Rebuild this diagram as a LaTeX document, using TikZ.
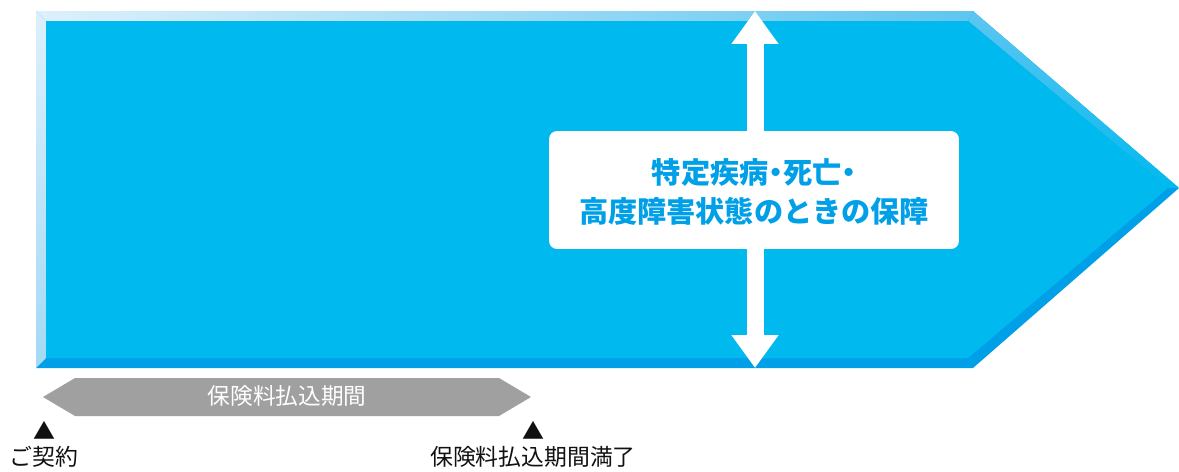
\documentclass[tikz,border=0pt]{standalone}
\usepackage{fontspec}
\setmainfont{Noto Sans CJK JP}
\newfontfamily\paltfont[RawFeature=+palt]{Noto Sans CJK JP}
\usepackage{xcolor}
\usepackage{tikz}
\usetikzlibrary{calc,arrows.meta}
\definecolor{main}{HTML}{00B9EF}
\definecolor{deep}{HTML}{00A0E9}
\definecolor{pale}{HTML}{DDF0FB}
\definecolor{light}{HTML}{A3D9F4}
\definecolor{sky}{HTML}{5FC6F0}
\definecolor{bar}{HTML}{A0A0A0}
\definecolor{ink}{HTML}{111111}
\newcommand{\dotp}{{\paltfont ・}}
\tikzset{
  box/.style={fill=white, rounded corners=0.16cm, minimum width=8.2cm, minimum height=2.36cm, inner sep=0pt},
  title/.style={text=deep, font=\bfseries\fontsize{16.6pt}{22pt}\selectfont, align=center},
  barlab/.style={text=white, font=\fontsize{12.9pt}{14pt}\selectfont},
  lab/.style={text=ink, font=\fontsize{13pt}{15pt}\selectfont},
  tri/.style={text=ink, font=\fontsize{12.5pt}{15pt}\selectfont, inner sep=0pt},
  updown/.style={draw=white, line width=0.34cm, {Triangle[width=0.9cm,length=0.66cm]}-{Triangle[width=0.9cm,length=0.66cm]}},
}

\begin{document}
\begin{tikzpicture}[x=0.02cm, y=-0.02cm]
\useasboundingbox (0,0) rectangle (1179,471);

% big arrow with bevel
\fill[deep] (36,11) -- (973,11) -- (1179,188) -- (973,368) -- (36,368) -- cycle;
\shade[left color=pale, right color=sky] (36,11) -- (973,11) -- (968,21) -- (46,21) -- cycle;
\shade[top color=pale, bottom color=light] (36,11) -- (46,21) -- (46,358) -- (36,368) -- cycle;
\shade[top color=sky, bottom color=main] (973,11) -- (1179,188) -- (1168,188) -- (968,21) -- cycle;
\fill[main] (46,21) -- (968,21) -- (1168,188) -- (968,358) -- (46,358) -- cycle;

% double arrow and box
\coordinate (up) at (755,11);
\coordinate (down) at (755,368);
\draw[updown] (down) -- (up);
\node[box] (hosho) at (754,190) {};
\node[title] (hoshotext) at (754,192) {特定疾病\dotp 死亡\dotp\\高度障害状態のときの保障};

% payment period
\fill[bar] (43,397) -- (75,378) -- (499,378) -- (531,397) -- (499,416) -- (75,416) -- cycle;
\node[barlab] (period) at (287,396) {保険料払込期間};

% start / end marks
\node[tri] (startmark) at (44,430) {▲};
\node[lab] (start) at (44,457) {ご契約};
\node[tri] (endmark) at (533,430) {▲};
\node[lab] (end) at (533,457) {保険料払込期間満了};
\end{tikzpicture}
\end{document}
